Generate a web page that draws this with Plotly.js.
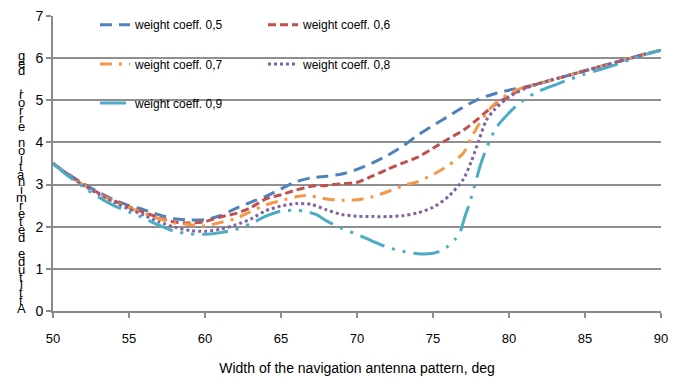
<!DOCTYPE html>
<html>
<head>
<meta charset="utf-8">
<script src="https://cdn.plot.ly/plotly-3.0.1.min.js"></script>
<style>html,body{margin:0;padding:0;background:#fff;}#chart{width:692px;height:385px;}</style>
</head>
<body>
<div id="chart"></div>
<script>
// ---- data ----
const seriesNames = ["weight coeff. 0,5", "weight coeff. 0,6", "weight coeff. 0,7", "weight coeff. 0,8", "weight coeff. 0,9"];

const x05 = [50,51,52,53,54,55,56,57,58,59,60,61,62,63,64,65,66,67,68,69,70,71,72,73,74,75,76,77,78,79,80,81,82,83,84,85,86,87,88,89,90];
const y05 = [3.50,3.25,3.02,2.82,2.64,2.50,2.40,2.28,2.19,2.16,2.17,2.26,2.43,2.58,2.72,2.90,3.07,3.16,3.20,3.25,3.36,3.51,3.69,3.91,4.17,4.40,4.62,4.84,5.03,5.15,5.24,5.31,5.40,5.50,5.60,5.70,5.80,5.90,6.00,6.10,6.19];

const x06 = [50,51,52,53,54,55,56,57,58,59,60,61,62,63,64,65,66,67,68,69,70,71,72,73,74,75,76,77,78,79,80,81,82,83,84,85,86,87,88,89,90];
const y06 = [3.50,3.24,3.00,2.80,2.62,2.47,2.34,2.21,2.11,2.09,2.12,2.23,2.31,2.45,2.66,2.76,2.87,2.96,2.98,3.02,3.05,3.20,3.36,3.51,3.65,3.86,4.08,4.29,4.57,4.88,5.10,5.29,5.40,5.50,5.60,5.70,5.80,5.90,6.00,6.10,6.19];

const x07 = [50,51,52,53,54,55,56,57,58,59,60,61,62,63,64,65,66,66.6,67,68,69,70,71,72,73,74,75,76,77,77.5,78,78.5,79,80,81,82,83,84,85,86,87,88,89,90];
const y07 = [3.50,3.23,2.99,2.78,2.60,2.45,2.32,2.19,2.09,2.05,2.02,2.10,2.19,2.36,2.52,2.62,2.71,2.74,2.73,2.66,2.63,2.64,2.71,2.83,2.97,3.07,3.24,3.45,3.75,4.10,4.42,4.68,4.90,5.16,5.31,5.40,5.50,5.60,5.70,5.80,5.90,6.00,6.10,6.19];

const x08 = [50,51,52,53,54,55,56,57,58,59,60,61,62,63,64,65,66,67,68,69,70,71,72,73,74,75,76,77,77.5,78,78.5,79,80,81,82,83,84,85,86,87,88,89,90];
const y08 = [3.50,3.23,2.98,2.77,2.58,2.42,2.27,2.11,1.99,1.91,1.89,1.94,2.04,2.18,2.38,2.49,2.55,2.53,2.40,2.29,2.25,2.24,2.24,2.26,2.33,2.46,2.71,3.13,3.53,4.03,4.52,4.76,5.08,5.27,5.40,5.50,5.60,5.70,5.80,5.90,6.00,6.10,6.19];

const x09 = [50,51,52,53,54,55,56,57,58,59,60,61,62,63,64,65,66,66.6,67.3,68,69,70,71,72,73,74,75,75.5,76,76.5,76.8,77.1,77.4,77.8,78.1,78.4,78.75,79.2,80,80.5,81.2,82,83,84,85,86,87,88,89,90];
const y09 = [3.50,3.20,2.94,2.70,2.50,2.35,2.20,2.03,1.89,1.83,1.82,1.86,1.93,2.07,2.25,2.37,2.39,2.37,2.29,2.14,1.96,1.82,1.66,1.51,1.42,1.36,1.37,1.43,1.54,1.72,1.89,2.24,2.55,3.05,3.44,3.75,4.06,4.37,4.70,4.87,5.07,5.22,5.36,5.50,5.62,5.73,5.84,5.97,6.09,6.19];

const xTickVals = [50,55,60,65,70,75,80,85,90];
const yTickVals = [0,1,2,3,4,5,6,7];
const xTitle = "Width of the navigation antenna pattern, deg";
const yTitle = "Attitude determination error, deg";

// ---- styles ----
const FONT = "Liberation Sans, Arial, sans-serif";
const colors = ["#4F81BD", "#C0504D", "#F79646", "#8064A2", "#4BACC6"];
const dashes = ["12px,7px", "8px,4px", "12px,7px,3px,7px", "3px,3px", "26px,8px,3px,8px,3px,8px"];
const legendIds = ["legend", "legend2", "legend3", "legend4", "legend5"];
const xs = [x05, x06, x07, x08, x09];
const ys = [y05, y06, y07, y08, y09];

const traces = seriesNames.map((name, i) => ({
  type: "scatter", mode: "lines", name: name,
  x: xs[i], y: ys[i],
  line: {color: colors[i], width: 3, dash: dashes[i], shape: "spline", smoothing: 0.7},
  legend: legendIds[i],
  hoverinfo: "skip"
}));

// plot area in pixels: left 53, right 661, top 10, bottom 311.5
const L = 53, R = 661, T = 10, B = 311.5;
const px2fx = p => (p - L) / (R - L);
const py2fy = p => (B - p) / (B - T);

function legendAt(pxLeft, pyCenter) {
  return {
    x: px2fx(pxLeft), y: py2fy(pyCenter), xanchor: "left", yanchor: "middle",
    xref: "paper", yref: "paper", bgcolor: "rgba(0,0,0,0)", borderwidth: 0,
    font: {family: FONT, size: 12, color: "#000"}
  };
}

// stacked y title letters (top char is the last char of the string)
const chars = yTitle.split("").reverse();
const annotations = [];
chars.forEach((c, i) => {
  if (c === " ") return;
  annotations.push({
    text: c, xref: "paper", yref: "paper",
    x: px2fx(21), y: py2fy(50 + i * 8.1),
    xanchor: "center", yanchor: "middle", showarrow: false,
    font: {family: FONT, size: 13, color: "#000"}
  });
});

const layout = {
  width: 692, height: 385,
  margin: {l: L, r: 692 - R, t: T, b: 385 - B},
  paper_bgcolor: "#fff", plot_bgcolor: "#fff",
  font: {family: FONT, size: 13, color: "#000"},
  showlegend: true,
  legend: legendAt(95, 19),
  legend2: legendAt(263, 19),
  legend3: legendAt(95, 59),
  legend4: legendAt(263, 59),
  legend5: legendAt(95, 99),
  xaxis: {
    range: [50, 90], tickvals: xTickVals, showgrid: false, zeroline: false,
    showline: true, linecolor: "#8a8a8a", linewidth: 2,
    ticks: "outside", ticklen: 5, tickwidth: 2, tickcolor: "#8a8a8a",
    ticklabelstandoff: 9,
    tickfont: {family: FONT, size: 13, color: "#000"},
    title: {text: xTitle, font: {family: FONT, size: 14, color: "#000"}, standoff: 19}
  },
  yaxis: {
    range: [0, 7], tickvals: yTickVals, showgrid: true, gridcolor: "#8f8f8f", gridwidth: 2,
    zeroline: false, showline: true, linecolor: "#8a8a8a", linewidth: 2,
    ticks: "outside", ticklen: 5, tickwidth: 2, tickcolor: "#8a8a8a",
    tickfont: {family: FONT, size: 14, color: "#000"}
  },
  annotations: annotations
};

Plotly.newPlot("chart", traces, layout, {displayModeBar: false, staticPlot: true});
</script>
</body>
</html>
